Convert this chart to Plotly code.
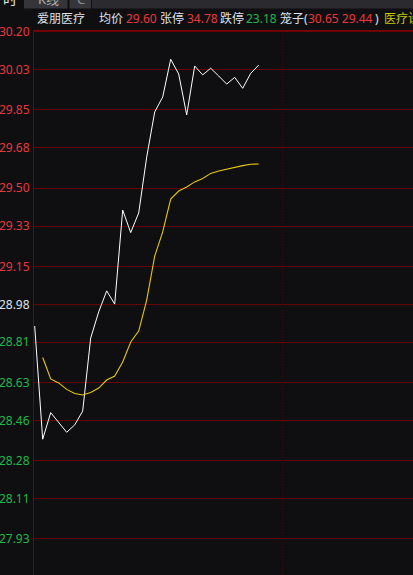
import plotly.graph_objects as go

# ---------------- data ----------------
minute_index = list(range(29))
price = [28.883, 28.376, 28.495, 28.453, 28.407, 28.440, 28.502, 28.829, 28.946,
         29.040, 28.981, 29.402, 29.301, 29.389, 29.639, 29.841, 29.908, 30.077,
         30.011, 29.828, 30.047, 30.007, 30.037, 30.002, 29.966, 29.996, 29.947,
         30.014, 30.051]
avg_price = [None, 28.742, 28.646, 28.628, 28.599, 28.581, 28.574, 28.585, 28.605,
             28.641, 28.659, 28.722, 28.811, 28.860, 28.999, 29.196, 29.304, 29.451,
             29.487, 29.505, 29.528, 29.543, 29.566, 29.577, 29.586, 29.595, 29.601,
             29.607, 29.608]
prev_close = 28.98
y_tick_labels = ["30.20", "30.03", "29.85", "29.68", "29.50", "29.33", "29.15",
                 "28.98", "28.81", "28.63", "28.46", "28.28", "28.11", "27.93"]
extra_bottom_label = "27.76"
midday_index = 31

stock_name = "爱朋医疗"
header_segments = [
    ("均价", "white"), ("29.60", "red"),
    ("张停", "white"), ("34.78", "red"),
    ("跌停", "white"), ("23.18", "green"),
    ("笼子(", "white"), ("30.65 29.44", "red"), (")", "white"),
    ("医疗设", "yellow"),
]
tab_labels = ["时", "K线", "C"]

# ---------------- style ----------------
BG = "#0f0f12"
RED = "#e8383b"
GREEN = "#1fb84a"
WHITE = "#dfe3ea"
YELLOW = "#c8c800"
GRID = "#680404"
AXIS = "#7c0000"
FONT = "Noto Sans, Noto Sans CJK SC, sans-serif"
color_map = {"white": WHITE, "red": RED, "green": GREEN, "yellow": YELLOW}

W_FIG, H_FIG = 413, 575
L, T = 34, 30
PW, PH = W_FIG - L, H_FIG - T


def xp(px):
    return (px - L) / PW


def yp(py):
    return (T + PH - py) / PH


# y range mapped so that 30.20..27.93 grid spacing is 39 px
px_per_step = 39.0
step = 0.1746
per_px = step / px_per_step
y_top = prev_close + (304.3 - T) * per_px
y_bot = prev_close - (H_FIG - 304.3) * per_px
x_left = -0.7 / 8.0
x_right = x_left + PW / 8.0


def tick_color(lbl):
    v = float(lbl)
    if abs(v - prev_close) < 1e-6:
        return WHITE
    return RED if v > prev_close else GREEN


fig = go.Figure()
fig.add_trace(go.Scatter(x=minute_index, y=price, mode="lines",
                         line=dict(color="#ffffff", width=1), hoverinfo="skip"))
fig.add_trace(go.Scatter(x=minute_index, y=avg_price, mode="lines",
                         line=dict(color="#e6c80a", width=1.1), hoverinfo="skip"))

fig.update_layout(
    width=W_FIG, height=H_FIG,
    paper_bgcolor=BG, plot_bgcolor=BG,
    margin=dict(l=L, r=0, t=T, b=0, pad=0, autoexpand=False),
    showlegend=False,
    font=dict(family=FONT, size=12, color=WHITE),
    xaxis=dict(range=[x_left, x_right], showgrid=False, zeroline=False,
               showticklabels=False, showline=False, fixedrange=True, automargin=False),
    yaxis=dict(range=[y_bot, y_top], zeroline=False, automargin=False,
               tickvals=[float(t) for t in y_tick_labels],
               ticktext=[f"<span style='color:{tick_color(t)}'>{t}</span>" for t in y_tick_labels],
               tickfont=dict(family=FONT, size=12),
               showgrid=True, gridcolor=GRID, gridwidth=1,
               showline=True, linecolor=AXIS, linewidth=1,
               ticks="", ticklabelstandoff=1, fixedrange=True),
)

shapes = []
# top border of plot
shapes.append(dict(type="line", xref="paper", yref="paper", x0=0, x1=1, y0=yp(30.5), y1=yp(30.5),
                   line=dict(color=AXIS, width=1)))
# midday dotted separator
shapes.append(dict(type="line", xref="x", yref="paper", x0=midday_index, x1=midday_index,
                   y0=0, y1=yp(31), line=dict(color="#4a0808", width=1, dash="1px,2px")))
# tab bar
shapes.append(dict(type="rect", xref="paper", yref="paper", x0=xp(92), x1=xp(413),
                   y0=yp(8.5), y1=yp(0), fillcolor="#2b2b2f", line=dict(width=0)))
shapes.append(dict(type="rect", xref="paper", yref="paper", x0=xp(24), x1=xp(67.5),
                   y0=yp(8.5), y1=yp(0), fillcolor="#36363a", line=dict(width=0)))
shapes.append(dict(type="rect", xref="paper", yref="paper", x0=xp(69.5), x1=xp(91),
                   y0=yp(8.5), y1=yp(0), fillcolor="#36363a", line=dict(width=0)))
fig.update_layout(shapes=shapes)

ann = []
# tabs (only bottom part visible)
tab_pos = [(1, "#e8e8e8", 14), (36, "#b0b0b0", 13), (75, "#8a8a8a", 13)]
for lbl, (x0, col, sz) in zip(tab_labels, tab_pos):
    ann.append(dict(text=lbl, xref="paper", yref="paper", x=xp(x0), y=yp(-1), xanchor="left",
                    yanchor="middle", showarrow=False, font=dict(size=sz, color=col, family=FONT)))
# header
ann.append(dict(text=stock_name, xref="paper", yref="paper", x=xp(35), y=yp(19),
                xanchor="left", yanchor="middle", showarrow=False,
                font=dict(size=12, color=WHITE, family=FONT)))
seg_x = [97, 123.5, 157.5, 184.5, 217.5, 243.5, 277.5, 306, 373, 381.5]
for (txt, c), x0 in zip(header_segments, seg_x):
    ann.append(dict(text=txt, xref="paper", yref="paper", x=xp(x0), y=yp(19),
                    xanchor="left", yanchor="middle", showarrow=False,
                    font=dict(size=12, color=color_map[c], family=FONT)))
# partially visible label below the bottom edge
ann.append(dict(text=extra_bottom_label, xref="paper", yref="y", x=xp(31.5),
                y=prev_close - 7 * step, xanchor="right", yanchor="middle", showarrow=False,
                font=dict(size=12, color="#d8c000", family=FONT)))
fig.update_layout(annotations=ann)

fig.write_html(
    "out.html",
    config={"displayModeBar": False, "staticPlot": True},
    post_script="document.body.style.margin='0';document.body.style.padding='0';"
                "document.body.style.background='" + BG + "';",
)
